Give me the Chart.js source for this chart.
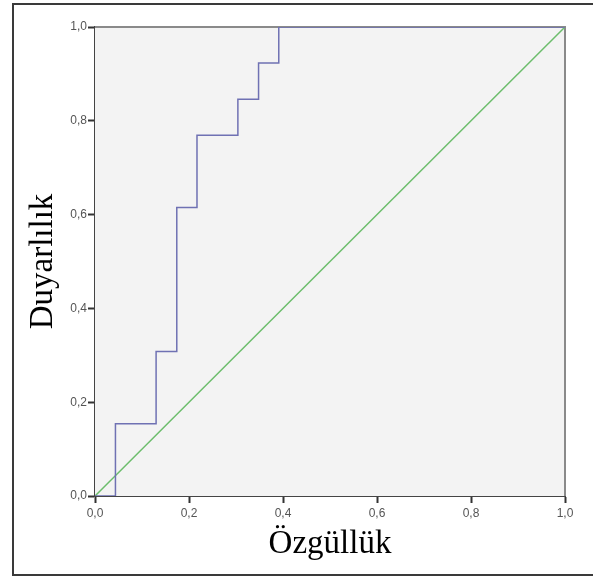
<!DOCTYPE html>
<html>
<head>
<meta charset="utf-8">
<script src="https://cdn.jsdelivr.net/npm/chart.js@4/dist/chart.umd.min.js"></script>
<style>
  html, body { margin: 0; padding: 0; background: #fff; overflow: hidden; }
  #frame { position: absolute; left: 12px; top: 3px; width: 600px; height: 569px;
           border: 2px solid #3a3a3a; border-right: none; }
  #wrap { position: absolute; left: 0; top: 0; width: 593px; height: 578px; }
</style>
</head>
<body>
<div id="frame"></div>
<div id="wrap"><canvas id="rocChart" width="593" height="578"></canvas></div>
<script>
// ROC curve steps (1 - specificity, sensitivity)
var fpr = [0, 0.0435, 0.0435, 0.130, 0.130, 0.174, 0.174, 0.217, 0.217, 0.304, 0.304, 0.348, 0.348, 0.391, 0.391, 1];
var tpr = [0, 0, 0.154, 0.154, 0.308, 0.308, 0.615, 0.615, 0.769, 0.769, 0.846, 0.846, 0.923, 0.923, 1, 1];
var refX = [0, 1];
var refY = [0, 1];
var tickValues = [0, 0.2, 0.4, 0.6, 0.8, 1.0];

function toPoints(xs, ys){
	return xs.map(function(x, i){ return {x: x, y: ys[i]}; });
}
function fmt(v){
	return Number(v).toFixed(1).replace('.', ',');
}

var plotBg = {
	id: 'plotBg',
	beforeDatasetsDraw: function(chart){
		var a = chart.chartArea, c = chart.ctx;
		c.save();
		c.fillStyle = '#f3f3f3';
		c.fillRect(a.left, a.top, a.right - a.left, a.bottom - a.top);
		c.strokeStyle = '#8a8a8a';
		c.lineWidth = 2;
		c.beginPath();
		c.moveTo(a.left, a.top);
		c.lineTo(a.right, a.top);
		c.lineTo(a.right, a.bottom);
		c.stroke();
		c.restore();
	}
};

var axisCommon = function(title, fixSize, isX){
	return {
		type: 'linear',
		min: 0,
		max: 1,
		afterBuildTicks: function(scale){
			scale.ticks = tickValues.map(function(v){ return {value: v}; });
		},
		afterFit: function(scale){
			if(isX){ scale.height = fixSize; } else { scale.width = fixSize; }
		},
		border: { color: '#444', width: 2 },
		grid: { drawOnChartArea: false, tickLength: 7, tickColor: '#333', tickWidth: 2 },
		ticks: {
			padding: isX ? 3 : 1,
			color: '#555',
			font: { family: 'Liberation Sans', size: 12 },
			maxRotation: 0,
			autoSkip: false,
			callback: function(v){ return fmt(v); }
		},
		title: {
			display: true,
			text: title,
			color: '#000',
			font: { family: 'Liberation Serif', size: 33 },
			padding: isX ? { top: 0, bottom: 14 } : { top: 24, bottom: 0 }
		}
	};
};

var ctx = document.getElementById('rocChart');
var rocChart = new Chart(ctx, {
	type: 'scatter',
	data: {
		datasets: [{
			data: toPoints(fpr, tpr),
			showLine: true,
			borderColor: '#6f71b3',
			borderWidth: 1.5,
			pointRadius: 0,
			fill: false
		}, {
			data: toPoints(refX, refY),
			showLine: true,
			borderColor: '#6cbd6c',
			borderWidth: 1.5,
			pointRadius: 0,
			fill: false
		}]
	},
	options: {
		responsive: false,
		animation: false,
		layout: { padding: { left: 0, top: 27, right: 28, bottom: 0 } },
		plugins: { legend: { display: false }, tooltip: { enabled: false } },
		scales: {
			x: axisCommon('Özgüllük', 82, true),
			y: axisCommon('Duyarlılık', 95, false)
		}
	},
	plugins: [plotBg]
});
</script>
</body>
</html>
